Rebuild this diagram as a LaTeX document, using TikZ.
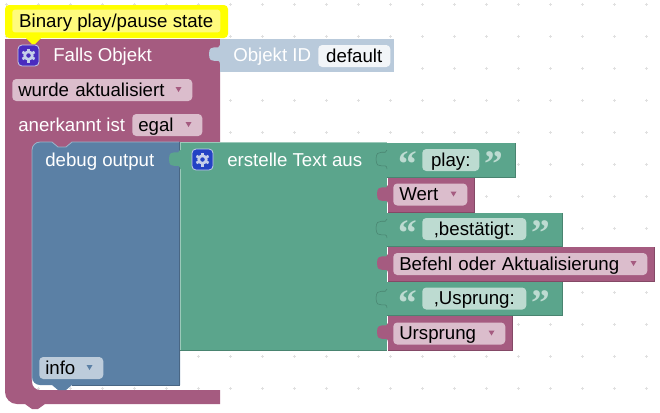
\documentclass[tikz,border=0pt]{standalone}
\usepackage{fontspec}
\setmainfont{Liberation Sans}
\newfontfamily\quotefont{Liberation Serif}

\definecolor{plum}{HTML}{A55B80}
\definecolor{plumdark}{HTML}{844966}
\definecolor{plumfield}{HTML}{DBBDCC}
\definecolor{steel}{HTML}{5B80A5}
\definecolor{steeldark}{HTML}{496684}
\definecolor{steellight}{HTML}{9CB3C9}
\definecolor{steelfield}{HTML}{BDCCDB}
\definecolor{sage}{HTML}{5BA58C}
\definecolor{sagedark}{HTML}{498470}
\definecolor{sagelight}{HTML}{9CC9BA}
\definecolor{sagefield}{HTML}{BDDBD1}
\definecolor{paleid}{HTML}{B9CADB}
\definecolor{notemark}{HTML}{FFFF00}
\definecolor{notefill}{HTML}{FFFB7D}
\definecolor{griddot}{HTML}{E0E0E0}
\definecolor{gearviolet}{HTML}{4A2BBF}
\definecolor{gearblue}{HTML}{2342C4}
\definecolor{gearpale}{HTML}{C5CFEA}

\tikzset{
    blocktext/.style={anchor=west, inner sep=0pt, text=white, text height=12pt, text depth=2.5pt, font=\fontsize{14pt}{16pt}\selectfont},
    fieldbox/.style={anchor=west, inner xsep=4.5pt, inner ysep=0pt, rounded corners=3pt, text=black, minimum height=16.5pt, text height=12pt, text depth=2.5pt, font=\fontsize{14pt}{16pt}\selectfont},
    dropfield/.style={fieldbox, align=left, /utils/exec={\pgfmathsetlengthmacro\fieldw{#1*0.75pt-9pt}}, text width=\fieldw},
    quotefield/.style={fieldbox, minimum width=#1*0.75pt, align=center},
    quotemark/.style={inner sep=0pt, text=sagefield, font=\quotefont\bfseries\fontsize{28pt}{28pt}\selectfont, text height=13pt, text depth=0pt}
}

% Puzzle tab pointing left, from (x,y)
\newcommand{\puzzletab}[3]{
    \fill[#3, shift={(#1,#2)}] (2,0) -- (0,0) .. controls (0,6) and (-11,-3) .. (-11,9) .. controls (-11,22) and (0,11) .. (0,19) -- (2,19) -- cycle;
}
% Outline of a socket on a block edge
\newcommand{\socketline}[3]{
    \draw[#3, line width=0.4pt, shift={(#1,#2)}] (0,0) .. controls (0,6) and (-11,-3) .. (-11,9) .. controls (-11,22) and (0,11) .. (0,19);
}
% Flat block with dark lower edge
\newcommand{\flatblock}[6]{
    \fill[#5] (#1,#2) rectangle (#3,#4);
    \draw[#6, line width=0.6pt] (#1,#4) -- (#3,#4) -- (#3,#2);
}
% Dropdown arrow inside a field
\newcommand{\dropmark}[2]{
    \fill[#2, shift={(#1.east)}] (-17,-3) -- (-11,-3) -- (-14,2) -- cycle;
}
% Gear icon
\newcommand{\gearicon}[3]{
    \filldraw[fill=#3, draw=gearpale, line width=0.6pt, rounded corners=3pt] (#1-10.5,#2-10.5) rectangle (#1+10.5,#2+10.5);
    \foreach \a in {30,90,...,330} {
        \draw[gearpale, line width=2pt, shift={(#1,#2)}] (\a:3) -- (\a:7);
    }
    \draw[gearpale, line width=2pt] (#1,#2) circle[radius=3.8];
}

\begin{document}
\begin{tikzpicture}[x=0.75pt, y=-0.75pt]
    \useasboundingbox (0,0) rectangle (660,412);

    % Workspace dots
    \foreach \gx in {0,...,20} {
        \foreach \gy in {0,...,12} {
            \draw[griddot, line width=0.7pt] (6+32*\gx-1.5,4+32*\gy) -- ++(3,0) (6+32*\gx,4+32*\gy-1.5) -- ++(0,3);
        }
    }

    % Event block
    \fill[plum] (5,39) -- (220,39) -- (220,142) -- (72,142) -- (66,147) -- (58,147) -- (52,142) -- (40,142) arc (270:180:8) -- (32,382) arc (180:90:8) -- (220,390) -- (220,404) -- (45,404) -- (38,409) -- (32,409) -- (25,404) -- (17,404) arc (90:180:12) -- cycle;
    \puzzletab{220}{45}{paleid}
    \node (falls) [blocktext] at (53,55) {Falls Objekt};
    \gearicon{28.5}{55.5}{gearviolet}
    \node (wurde) [dropfield=180, fill=plumfield] at (12,90) {wurde aktualisiert};
    \dropmark{wurde}{plum}
    \node (anerkannt) [blocktext] at (18,125) {anerkannt ist};
    \node (egal) [dropfield=70, fill=plumfield] at (132,125) {egal};
    \dropmark{egal}{plum}

    % Comment bubble
    \fill[notemark, rounded corners=3pt] (5,5) rectangle (228,38);
    \fill[notemark] (25,37) -- (42,37) -- (35,44) -- (32,44) -- cycle;
    \node (note) [anchor=west, fill=notefill, rounded corners=2pt, inner xsep=4.5pt, inner ysep=0pt, minimum height=17pt, minimum width=156pt, align=left, text height=12pt, text depth=2.5pt, font=\fontsize{14pt}{16pt}\selectfont] at (12,21) {Binary play/pause state};

    % Object id
    \fill[paleid] (220,39) rectangle (394,72);
    \node (objid) [blocktext] at (233,55) {Objekt ID};
    \node (default) [quotefield=72, fill=white!80!steelfield] at (318,56) {default};

    % Debug block
    \fill[steel] (40,142) -- (52,142) -- (58,147) -- (66,147) -- (72,142) -- (180,142) -- (180,385) -- (72,385) -- (66,390) -- (58,390) -- (52,385) -- (40,385) arc (90:180:8) -- (32,150) arc (180:270:8) -- cycle;
    \draw[steeldark, line width=0.6pt] (179.5,142) -- (179.5,385) -- (72,385);
    \draw[steellight, line width=0.6pt] (32,380) -- (32,150) arc (180:270:8) -- (52,142) -- (58,147) -- (66,147) -- (72,142) -- (179,142);
    \node (debug) [blocktext] at (45,160) {debug output};
    \node (info) [dropfield=64, fill=steelfield] at (39,368) {info};
    \dropmark{info}{steel}

    % Text join block
    \fill[sage] (180,142) rectangle (387,350);
    \draw[sagelight, line width=0.6pt] (180,350) -- (180,142) -- (387,142);
    \draw[sagedark, line width=0.6pt] (180,350) -- (387,350);
    \puzzletab{180}{150}{sage}
    \gearicon{202.5}{159.5}{gearblue}
    \node (erstelle) [blocktext] at (227,160) {erstelle Text aus};

    % Inputs of the text block
    \flatblock{387}{143}{515}{177}{sage}{sagedark}
    \flatblock{387}{213}{562}{246}{sage}{sagedark}
    \flatblock{387}{282}{562}{315}{sage}{sagedark}
    \flatblock{388}{178}{474}{212}{plum}{plumdark}
    \flatblock{388}{247}{654}{281}{plum}{plumdark}
    \flatblock{388}{316}{512}{350}{plum}{plumdark}
    \socketline{387}{150}{sagedark}
    \socketline{387}{219}{sagedark}
    \socketline{387}{289}{sagedark}
    \puzzletab{388}{185}{plum}
    \puzzletab{388}{254}{plum}
    \puzzletab{388}{323}{plum}

    % First text and value
    \node (playl) [quotemark] at (408,168) {“};
    \node (play) [quotefield=57, fill=sagefield] at (422,160) {play:};
    \node (playr) [quotemark] at (494,168) {”};
    \node (wert) [dropfield=74, fill=plumfield] at (393,194.5) {Wert};
    \dropmark{wert}{plum}

    % Second text and value
    \node (bestl) [quotemark] at (408,237) {“};
    \node (best) [quotefield=104, fill=sagefield] at (422,229) {,bestätigt:};
    \node (bestr) [quotemark] at (541,237) {”};
    \node (befehl) [dropfield=254, fill=plumfield] at (393,264) {Befehl oder Aktualisierung};
    \dropmark{befehl}{plum}

    % Third text and value
    \node (uspl) [quotemark] at (408,307) {“};
    \node (usp) [quotefield=104, fill=sagefield] at (422,298.5) {,Usprung:};
    \node (uspr) [quotemark] at (541,307) {”};
    \node (ursprung) [dropfield=112, fill=plumfield] at (393,333.5) {Ursprung};
    \dropmark{ursprung}{plum}
\end{tikzpicture}
\end{document}
